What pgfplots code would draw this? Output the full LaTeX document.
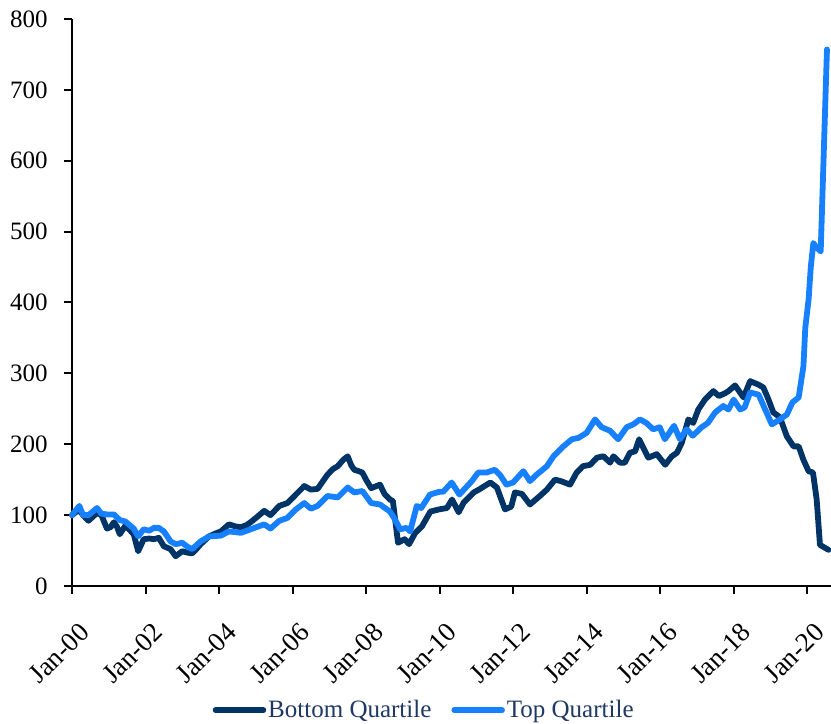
\documentclass[border=0pt]{standalone}
\usepackage{pgfplots}
\pgfplotsset{compat=1.18}
\usepackage{fontspec}
\setmainfont{Liberation Serif}
\definecolor{darkq}{RGB}{0,51,102}
\definecolor{lightq}{RGB}{22,128,255}
\definecolor{legtext}{RGB}{31,56,100}
\pgfplotstableread{
x y
0 100
0.1 104
0.2 107
0.3 100
0.45 92
0.55 97
0.68 103
0.8 100
0.95 81
1.05 83
1.14 90
1.22 84
1.3 73
1.45 85
1.55 80
1.68 73
1.8 49
1.95 66
2.1 67
2.23 66
2.36 68
2.5 56
2.68 52
2.82 42
3.0 49
3.15 47
3.27 46
3.4 53
3.5 59
3.73 70
3.9 74
4.05 77
4.27 87
4.45 84
4.6 83
4.75 86
4.86 90
5.05 98
5.23 106
5.4 100
5.64 113
5.86 117
6.09 129
6.32 141
6.5 136
6.68 137
6.95 157
7.1 165
7.23 169
7.38 178
7.5 183
7.6 170
7.68 164
7.8 162
7.9 160
8.0 150
8.14 138
8.38 143
8.5 130
8.65 122
8.73 120
8.87 61
9.05 66
9.17 59
9.34 75
9.52 84
9.75 105
9.98 108
10.2 110
10.34 122
10.52 104
10.66 118
10.93 132
11.07 136
11.38 146
11.56 139
11.78 108
11.95 112
12.05 132
12.24 130
12.46 115
12.73 127
12.92 136
13.14 150
13.3 148
13.55 143
13.73 160
13.9 169
14.1 171
14.28 181
14.46 183
14.64 174
14.73 183
14.91 174
15.04 174
15.18 188
15.32 190
15.43 207
15.68 181
15.91 186
16.14 171
16.32 183
16.46 188
16.59 202
16.77 235
16.9 230
17.04 249
17.22 263
17.45 275
17.6 268
17.77 272
17.86 275
18.04 283
18.27 266
18.45 289
18.68 284
18.81 280
18.95 263
19.08 245
19.26 238
19.45 211
19.63 197
19.77 197
19.9 178
20.04 162
20.16 160
20.26 122
20.35 58
20.58 51
}\bottomq
\pgfplotstableread{
x y
0 100
0.2 113
0.3 100
0.45 100
0.68 110
0.8 102
0.95 101
1.14 101
1.3 93
1.45 91
1.68 81
1.8 70
1.95 80
2.1 78
2.23 82
2.36 82
2.5 77
2.68 63
2.82 59
3.0 61
3.15 55
3.27 52
3.5 63
3.73 70
4.05 71
4.27 77
4.6 75
4.86 80
5.23 87
5.4 81
5.64 92
5.86 96
6.09 108
6.32 117
6.5 109
6.68 113
6.95 127
7.23 125
7.5 139
7.68 132
7.9 134
8.14 117
8.38 115
8.65 105
8.75 97
8.93 80
9.1 82
9.2 77
9.38 113
9.5 110
9.74 129
10.0 133
10.1 133
10.33 146
10.54 129
10.7 138
10.88 148
11.05 160
11.28 160
11.5 164
11.64 157
11.82 143
12.0 146
12.28 162
12.46 148
12.64 157
12.92 169
13.1 183
13.37 197
13.6 207
13.78 209
14.0 216
14.23 235
14.41 224
14.64 219
14.86 207
15.09 224
15.27 228
15.45 235
15.63 230
15.81 221
15.99 224
16.13 207
16.38 226
16.54 207
16.72 221
16.89 212
17.13 224
17.3 230
17.5 245
17.72 254
17.86 249
18.0 263
18.18 249
18.3 252
18.45 273
18.68 270
18.86 249
19.04 228
19.26 235
19.45 242
19.6 259
19.77 266
19.9 310
19.95 364
20.04 404
20.1 450
20.17 484
20.22 480
20.37 472
20.54 757
}\topq
\begin{document}
\fontsize{12}{14}\selectfont
\begin{tikzpicture}
\begin{axis}[
  scale only axis,
  width=379.5pt, height=283.5pt,
  xmin=0, xmax=20.65,
  ymin=0, ymax=800,
  axis x line=bottom, axis y line=left,
  axis line style={-, line width=1pt},
  tick style={black, line width=1pt},
  tick align=outside,
  major tick length=4pt,
  xtick={0,2,...,20},
  xticklabels={Jan-00,Jan-02,Jan-04,Jan-06,Jan-08,Jan-10,Jan-12,Jan-14,Jan-16,Jan-18,Jan-20},
  ytick={0,100,...,800},
  /pgf/number format/assume math mode=true,
  yticklabel style={font=\fontsize{12.5}{14}\selectfont, xshift=-4pt},
  xticklabel style={font=\fontsize{13.5}{15}\selectfont, xshift=3pt, yshift=-12pt, rotate=45, anchor=north east, inner sep=1pt},
  legend style={at={(0.464,-0.219)}, anchor=center, draw=none, legend columns=2,
    font=\fontsize{12.5}{14}\selectfont\color{legtext}, column sep=0pt,
    /tikz/every even column/.append style={column sep=9pt},
    nodes={inner sep=1pt}},
  legend image code/.code={\draw[#1, line width=2.75pt, line cap=round] (0pt,0pt) -- (24pt,0pt);},
  clip=false,
]
\coordinate (sw) at (rel axis cs:0,0);
\coordinate (ne) at (rel axis cs:1,1);
\addplot[darkq, line width=2.9pt, line join=round, line cap=round] table[x=x,y=y] {\bottomq};
\addlegendentry{Bottom Quartile}
\addplot[lightq, line width=2.9pt, line join=round, line cap=round] table[x=x,y=y] {\topq};
\addlegendentry{Top Quartile}
\end{axis}
\pgfresetboundingbox
\path ([shift={(-36pt,-69pt)}]sw) rectangle ([shift={(0pt,9.5pt)}]ne);
\end{tikzpicture}
\end{document}
